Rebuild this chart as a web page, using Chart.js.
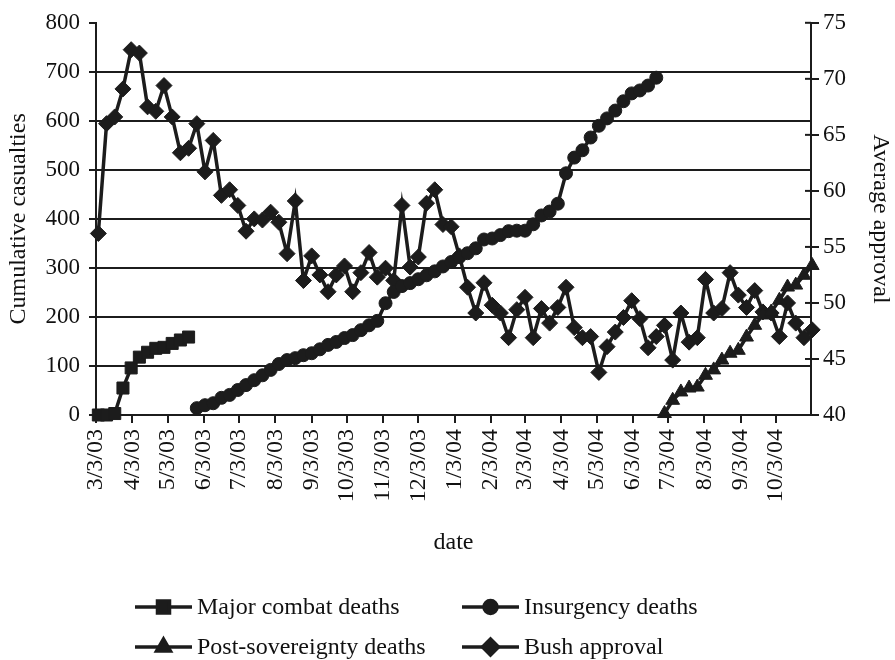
<!DOCTYPE html>
<html>
<head>
<meta charset="utf-8">
<script src="https://cdn.jsdelivr.net/npm/chart.js@4.4.1/dist/chart.umd.min.js"></script>
<style>
  html, body { margin: 0; padding: 0; background: #fff; }
</style>
</head>
<body>
<canvas id="chart" width="895" height="660"></canvas>
<script>
// monthly tick labels on the date axis
const monthLabels = ["3/3/03", "4/3/03", "5/3/03", "6/3/03", "7/3/03", "8/3/03", "9/3/03",
  "10/3/03", "11/3/03", "12/3/03", "1/3/04", "2/3/04", "3/3/04", "4/3/04", "5/3/04",
  "6/3/04", "7/3/04", "8/3/04", "9/3/04", "10/3/04"];

// weekly observations; first week is 3/5/03
const firstWeek = "3/5/03";
const lastDay = "11/3/04";

// cumulative casualties (left axis)
const majorCombat = [0, 0, 3, 55, 96, 118, 128, 136, 138, 146, 153, 159];
const majorStart = 0;

const insurgency = [14, 20, 24, 35, 41, 51, 61, 71, 81, 92, 104, 112, 116, 122, 126, 134,
  143, 149, 157, 163, 173, 183, 192, 228, 251, 263, 269, 277, 285, 293, 303, 312, 322,
  330, 340, 358, 360, 367, 375, 376, 376, 389, 407, 415, 431, 493, 525, 540, 566, 590,
  605, 621, 640, 656, 662, 672, 688];
const insurgencyStart = 12;

const postSovereignty = [3, 30, 47, 55, 57, 81, 92, 112, 126, 132, 159, 183, 204, 210,
  234, 261, 265, 285, 305];
const postSovStart = 69;

// average approval (right axis), every week
const approval = [56.2, 66.0, 66.6, 69.1, 72.6, 72.3, 67.5, 67.1, 69.4, 66.6, 63.4, 63.8,
  66.0, 61.7, 64.5, 59.6, 60.1, 58.7, 56.4, 57.5, 57.4, 58.1, 57.2, 54.4, 59.1, 52.0,
  54.2, 52.5, 51.0, 52.5, 53.3, 51.0, 52.7, 54.5, 52.3, 53.1, 52.0, 58.7, 53.2, 54.1,
  58.9, 60.1, 57.0, 56.8, 54.2, 51.4, 49.1, 51.8, 49.8, 49.1, 46.9, 49.4, 50.5, 46.9,
  49.5, 48.2, 49.6, 51.4, 47.8, 46.9, 47.0, 43.8, 46.1, 47.4, 48.7, 50.2, 48.6, 46.0,
  47.0, 48.0, 44.9, 49.1, 46.5, 46.9, 52.1, 49.1, 49.5, 52.7, 50.7, 49.6, 51.1, 49.2,
  49.1, 47.0, 50.0, 48.2, 46.9, 47.6];

function dayOf(s) {
  const [m, d, y] = s.split("/").map(Number);
  return (Date.UTC(2000 + y, m - 1, d) - Date.UTC(2003, 2, 3)) / 864e5;
}

const monthDays = monthLabels.map(dayOf);
const weekX = approval.map((_, i) => dayOf(firstWeek) + 7 * i);

function toPoints(values, start) {
  return values.map((v, i) => ({ x: weekX[start + i], y: v }));
}

const ink = "#1c1c1c";
const serif = "'Liberation Serif', 'Times New Roman', serif";
const tickFont = { family: serif, size: 23 };
const dateFont = { family: serif, size: 24 };
const titleFont = { family: serif, size: 24 };

function series(label, data, style, radius, axis) {
  return {
    label: label,
    data: data,
    yAxisID: axis,
    borderColor: ink,
    backgroundColor: ink,
    borderWidth: 3.5,
    pointStyle: style,
    pointRadius: radius,
    pointBackgroundColor: ink,
    pointBorderColor: ink,
    pointBorderWidth: 1,
    tension: 0,
    clip: false
  };
}

const datasets = [
  series("Major combat deaths", toPoints(majorCombat, majorStart), "rect", 8.5, "y"),
  series("Insurgency deaths", toPoints(insurgency, insurgencyStart), "circle", 6.5, "y"),
  series("Post-sovereignty deaths", toPoints(postSovereignty, postSovStart), "triangle", 8, "y"),
  series("Bush approval", toPoints(approval, 0), "rectRot", 8, "y1")
];

// legend drawn as line + marker, two columns
const legendPlugin = {
  id: "lineLegend",
  afterDraw(chart) {
    const ctx = chart.ctx;
    const cols = [135, 462];
    const rows = [607, 647];
    ctx.save();
    chart.data.datasets.forEach((ds, i) => {
      const x0 = cols[i % 2];
      const y = rows[Math.floor(i / 2)];
      ctx.strokeStyle = ink;
      ctx.lineWidth = 3.5;
      ctx.beginPath();
      ctx.moveTo(x0, y);
      ctx.lineTo(x0 + 57, y);
      ctx.stroke();
      ctx.fillStyle = ink;
      Chart.helpers.drawPoint(ctx, {
        pointStyle: ds.pointStyle,
        radius: ds.pointRadius,
        borderWidth: 1,
        rotation: 0
      }, x0 + 28.5, y);
      ctx.fillStyle = "#111";
      ctx.font = "24px " + serif;
      ctx.textBaseline = "middle";
      ctx.textAlign = "left";
      ctx.fillText(ds.label, x0 + 62, y + 1);
    });
    ctx.restore();
  }
};

// right-hand tick marks cross the axis line
const crossTicks = {
  id: "crossTicks",
  afterDraw(chart) {
    const s = chart.scales.y1;
    const ctx = chart.ctx;
    ctx.save();
    ctx.strokeStyle = ink;
    ctx.lineWidth = 2;
    s.ticks.forEach((t) => {
      const y = s.getPixelForValue(t.value);
      ctx.beginPath();
      ctx.moveTo(s.left - 6, y);
      ctx.lineTo(s.left, y);
      ctx.stroke();
    });
    ctx.restore();
  }
};

new Chart(document.getElementById("chart"), {
  type: "line",
  data: { datasets: datasets },
  plugins: [legendPlugin, crossTicks],
  options: {
    responsive: false,
    animation: false,
    layout: { padding: { top: 22, bottom: 100, left: 0, right: 0 } },
    plugins: { legend: { display: false }, tooltip: { enabled: false } },
    scales: {
      x: {
        type: "linear",
        min: 0,
        max: dayOf(lastDay) - 1,
        afterBuildTicks: (scale) => {
          scale.ticks = monthDays.map((v) => ({ value: v }));
        },
        afterFit: (scale) => { scale.height = 145; },
        ticks: {
          autoSkip: false,
          minRotation: 90,
          maxRotation: 90,
          padding: 6,
          color: "#111",
          font: dateFont,
          callback: (v, i) => monthLabels[i]
        },
        grid: { drawOnChartArea: false, tickLength: 8, color: ink, lineWidth: 2 },
        border: { color: ink, width: 2 },
        title: { display: true, text: "date", color: "#111", font: titleFont, padding: { top: 4, bottom: 3 } }
      },
      y: {
        position: "left",
        min: 0,
        max: 800,
        afterFit: (scale) => { scale.width = 96; },
        ticks: { stepSize: 100, padding: 9, color: "#111", font: tickFont },
        grid: {
          color: (c) => (c.tick && c.tick.value === 800 ? "rgba(0,0,0,0)" : ink),
          tickColor: ink,
          lineWidth: 2,
          tickLength: 7
        },
        border: { color: ink, width: 2 },
        title: { display: true, text: "Cumulative casualties", color: "#111", font: titleFont, padding: { top: 4, bottom: 0 } }
      },
      y1: {
        position: "right",
        min: 40,
        max: 75,
        afterFit: (scale) => { scale.width = 84; },
        ticks: { stepSize: 5, padding: 4, color: "#111", font: tickFont },
        grid: { drawOnChartArea: false, tickLength: 8, color: ink, lineWidth: 2 },
        border: { color: ink, width: 2 },
        title: { display: true, text: "Average approval", color: "#111", font: titleFont, padding: { top: 0, bottom: 1 } }
      }
    }
  }
});
</script>
</body>
</html>
